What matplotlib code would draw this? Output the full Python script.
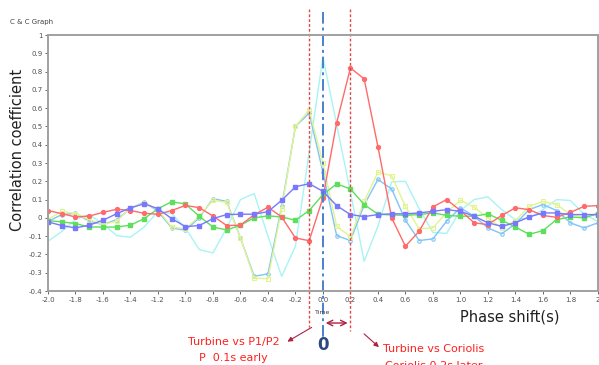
import matplotlib
matplotlib.use('Agg')
import matplotlib.pyplot as plt

# Phase shift (s) axis
phase = [-2.0, -1.9, -1.8, -1.7, -1.6, -1.5, -1.4, -1.3, -1.2, -1.1,
         -1.0, -0.9, -0.8, -0.7, -0.6, -0.5, -0.4, -0.3, -0.2, -0.1,
         0.0, 0.1, 0.2, 0.3, 0.4, 0.5, 0.6, 0.7, 0.8, 0.9,
         1.0, 1.1, 1.2, 1.3, 1.4, 1.5, 1.6, 1.7, 1.8, 1.9, 2.0]

# Correlation coefficient of each signal pair
red_vals = [0.04, 0.023, 0.005, 0.01, 0.03, 0.047, 0.04, 0.025, 0.02, 0.04,
            0.068, 0.056, 0.01, -0.042, -0.04, 0.017, 0.058, 0.005, -0.11, -0.125,
            0.11, 0.52, 0.82, 0.76, 0.39, 0.0, -0.155, -0.073, 0.06, 0.1,
            0.04, -0.027, -0.037, 0.013, 0.055, 0.045, 0.013, 0.003, 0.03, 0.063, 0.067]
blue_vals = [-0.022, -0.042, -0.055, -0.04, -0.013, 0.023, 0.055, 0.077, 0.05, -0.004,
             -0.048, -0.042, -0.004, 0.018, 0.02, 0.02, 0.034, 0.096, 0.17, 0.187,
             0.145, 0.067, 0.018, 0.007, 0.018, 0.022, 0.022, 0.027, 0.036, 0.045,
             0.036, 0.009, -0.027, -0.046, -0.027, 0.005, 0.027, 0.027, 0.018, 0.018, 0.018]
green_vals = [-0.015, -0.022, -0.031, -0.05, -0.05, -0.05, -0.04, -0.004, 0.05, 0.088,
              0.076, 0.009, -0.05, -0.066, -0.04, 0.0, 0.011, 0.005, -0.013, 0.04,
              0.127, 0.186, 0.158, 0.073, 0.02, 0.016, 0.014, 0.018, 0.027, 0.014,
              0.009, 0.009, 0.022, -0.013, -0.05, -0.09, -0.07, -0.009, 0.005, 0.0, 0.023]
yellow_vals = [-0.009, 0.036, 0.023, -0.009, -0.037, -0.018, 0.055, 0.082, 0.045, -0.05,
               -0.06, 0.009, 0.096, 0.085, -0.11, -0.33, -0.333, 0.05, 0.5, 0.59,
               0.3, -0.046, -0.104, 0.09, 0.25, 0.23, 0.063, -0.06, -0.055, 0.03,
               0.096, 0.058, 0.0, -0.055, -0.015, 0.063, 0.09, 0.073, 0.018, 0.005, 0.023]
skyblue_vals = [-0.02, 0.018, 0.025, -0.018, -0.037, -0.009, 0.05, 0.087, 0.036, -0.055,
                -0.068, 0.0, 0.105, 0.09, -0.11, -0.32, -0.306, 0.063, 0.5, 0.573,
                0.25, -0.097, -0.124, 0.07, 0.21, 0.158, -0.013, -0.124, -0.115, -0.018,
                0.055, 0.009, -0.055, -0.087, -0.033, 0.045, 0.073, 0.04, -0.027, -0.055, -0.027]
cyan_vals = [-0.128, -0.075, -0.009, 0.018, -0.033, -0.097, -0.106, -0.05, 0.036, 0.023,
             -0.055, -0.173, -0.192, -0.055, 0.1, 0.133, -0.1, -0.32, -0.155, 0.36,
             0.88, 0.51, 0.14, -0.237, -0.046, 0.197, 0.2, 0.05, -0.08, -0.085,
             0.04, 0.1, 0.115, 0.045, -0.01, 0.0, 0.045, 0.1, 0.095, 0.02, -0.02]

p_shift = -0.1        # P1/P2 lead
coriolis_shift = 0.2  # Coriolis lag

x_ticks = [-2.0, -1.8, -1.6, -1.4, -1.2, -1.0, -0.8, -0.6, -0.4, -0.2,
           0.0, 0.2, 0.4, 0.6, 0.8, 1.0, 1.2, 1.4, 1.6, 1.8, 2.0]
x_labels = ['-2.0', '-1.8', '-1.6', '-1.4', '-1.2', '-1.0', '-0.8', '-0.6', '-0.4', '-0.2',
            '0.0', '0.2', '0.4', '0.6', '0.8', '1.0', '1.2', '1.4', '1.6', '1.8', '2']
y_ticks = [-0.4, -0.3, -0.2, -0.1, 0, 0.1, 0.2, 0.3, 0.4, 0.5, 0.6, 0.7, 0.8, 0.9, 1]
y_labels = ['-0.4', '-0.3', '-0.2', '-0.1', '0', '0.1', '0.2', '0.3', '0.4', '0.5',
            '0.6', '0.7', '0.8', '0.9', '1']

fig = plt.figure(figsize=(5.99, 3.65), dpi=100)
ax = fig.add_axes([0.0801, 0.2027, 0.918, 0.7014])

ax.plot(phase, cyan_vals, '-', color='#a8f4f4', lw=1.0)
ax.plot(phase, skyblue_vals, '-o', color='#80c4f8', lw=1.0, ms=2.5, mfc='none', mew=0.8)
ax.plot(phase, yellow_vals, '-s', color='#e2f490', lw=1.0, ms=2.5, mfc='none', mew=0.8)
ax.plot(phase, green_vals, '-s', color='#5ce05c', lw=1.0, ms=2.8)
ax.plot(phase, red_vals, '-o', color='#ff6a6a', lw=1.0, ms=2.8)
ax.plot(phase, blue_vals, '-s', color='#7878ff', lw=1.0, ms=2.8)

ax.set_xlim(-2.0, 2.0)
ax.set_ylim(-0.4, 1.0)
ax.set_xticks(x_ticks)
ax.set_xticklabels(x_labels)
ax.set_yticks(y_ticks)
ax.set_yticklabels(y_labels)
ax.tick_params(labelsize=5, colors='#505050', length=2.5, width=0.6, pad=1.5)
for s in ax.spines.values():
    s.set_color('#a0a0a0')
    s.set_linewidth(1.4)

# reference lines that run past the plot area
tr = ax.get_xaxis_transform()
ax.plot([p_shift, p_shift], [1.10, -0.14], transform=tr, clip_on=False,
        color='#e04848', lw=1.0, ls=(0, (2, 1.5)))
ax.plot([coriolis_shift, coriolis_shift], [1.10, -0.155], transform=tr, clip_on=False,
        color='#e04848', lw=1.0, ls=(0, (2, 1.5)))
ax.plot([0, 0], [1.09, -0.18], transform=tr, clip_on=False,
        color='#4a80d0', lw=1.4, ls=(0, (6, 2, 1.5, 2)))

ax.annotate('', xy=(0, -0.125), xytext=(coriolis_shift, -0.125), xycoords=tr,
            arrowprops=dict(arrowstyle='<->', color='#b02040', lw=1.0))

fig.text(10 / 599, 1 - 22 / 365, 'C & C Graph', fontsize=5, color='#404040', va='center')
fig.text(18 / 599, 1 - 150 / 365, 'Correlation coefficient', fontsize=10.5,
         rotation=90, ha='center', va='center', color='#202020')
fig.text(510 / 599, 1 - 317 / 365, 'Phase shift(s)', fontsize=10.5,
         ha='center', va='center', color='#202020')
fig.text(323 / 599, 1 - 312 / 365, 'Time', fontsize=4.5, ha='center', va='center',
         color='#404040')
fig.text(323 / 599, 1 - 345 / 365, '0', fontsize=12, fontweight='bold',
         ha='center', va='center', color='#2a4a80')

fig.text(234 / 599, 1 - 342 / 365, 'Turbine vs P1/P2', fontsize=8,
         ha='center', va='center', color='#ff2020')
fig.text(233 / 599, 1 - 358 / 365, 'P  0.1s early', fontsize=8,
         ha='center', va='center', color='#ff2020')
fig.text(434 / 599, 1 - 349 / 365, 'Turbine vs Coriolis', fontsize=8,
         ha='center', va='center', color='#ff2020')
fig.text(434 / 599, 1 - 366 / 365, 'Coriolis 0.2s later', fontsize=8,
         ha='center', va='center', color='#ff2020')

fig.add_artist(matplotlib.patches.FancyArrowPatch(
    (314 / 599, 1 - 326 / 365), (285 / 599, 1 - 343 / 365), transform=fig.transFigure,
    arrowstyle='-|>', mutation_scale=7, color='#b02040', lw=0.8))
fig.add_artist(matplotlib.patches.FancyArrowPatch(
    (362 / 599, 1 - 332 / 365), (381 / 599, 1 - 349 / 365), transform=fig.transFigure,
    arrowstyle='-|>', mutation_scale=7, color='#b02040', lw=0.8))

fig.savefig('out.png', dpi=100)
